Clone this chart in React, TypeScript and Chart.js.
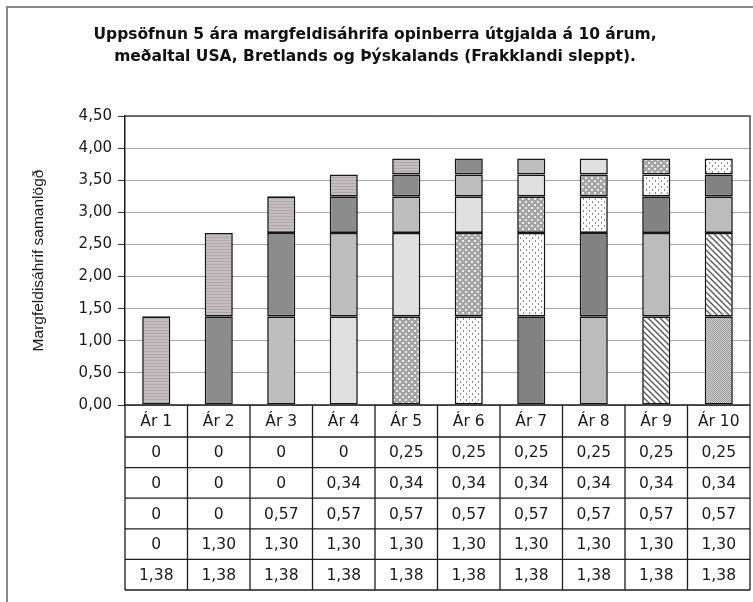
import { useEffect, useRef } from 'react';
import { Chart, registerables } from 'chart.js';

Chart.register(...registerables);

const categories = ['Ár 1', 'Ár 2', 'Ár 3', 'Ár 4', 'Ár 5', 'Ár 6', 'Ár 7', 'Ár 8', 'Ár 9', 'Ár 10'];
const titleLines = [
  'Uppsöfnun 5 ára margfeldisáhrifa opinberra útgjalda á 10 árum,',
  'meðaltal USA, Bretlands og Þýskalands (Frakklandi sleppt).',
];
const yAxisTitle = 'Margfeldisáhrif samanlögð';
const yTickLabels = ['0,00', '0,50', '1,00', '1,50', '2,00', '2,50', '3,00', '3,50', '4,00', '4,50'];

// Data table rows, as printed top to bottom (effect in 5th, 4th, 3rd, 2nd, 1st year of each outlay)
const effectYear5 = [0, 0, 0, 0, 0.25, 0.25, 0.25, 0.25, 0.25, 0.25];
const effectYear4 = [0, 0, 0, 0.34, 0.34, 0.34, 0.34, 0.34, 0.34, 0.34];
const effectYear3 = [0, 0, 0.57, 0.57, 0.57, 0.57, 0.57, 0.57, 0.57, 0.57];
const effectYear2 = [0, 1.3, 1.3, 1.3, 1.3, 1.3, 1.3, 1.3, 1.3, 1.3];
const effectYear1 = [1.38, 1.38, 1.38, 1.38, 1.38, 1.38, 1.38, 1.38, 1.38, 1.38];
const tableRows = [effectYear5, effectYear4, effectYear3, effectYear2, effectYear1];
const lagRows = [effectYear1, effectYear2, effectYear3, effectYear4, effectYear5];

const fmt = (v: number) => (v === 0 ? '0' : v.toFixed(2).replace('.', ','));

function makeTile(w: number, h: number, draw: (g: CanvasRenderingContext2D) => void) {
  const c = document.createElement('canvas');
  c.width = w;
  c.height = h;
  const g = c.getContext('2d')!;
  draw(g);
  return c;
}

function buildFills(ctx: CanvasRenderingContext2D): (string | CanvasPattern)[] {
  const pat = (c: HTMLCanvasElement) => ctx.createPattern(c, 'repeat')!;
  // cohort 1: grey with faint mauve tint and fine horizontal lines
  const c1 = pat(makeTile(4, 3, (g) => {
    g.fillStyle = '#c4bec0'; g.fillRect(0, 0, 4, 3);
    g.fillStyle = '#aea8aa'; g.fillRect(0, 0, 4, 1);
  }));
  // cohort 5: grey with white dots (checker-like)
  const c5 = pat(makeTile(6, 6, (g) => {
    g.fillStyle = '#a4a4a4'; g.fillRect(0, 0, 6, 6);
    g.fillStyle = '#ececec'; g.fillRect(0, 0, 2, 2); g.fillRect(3, 3, 2, 2);
  }));
  // cohort 6: white with sparse grey dots
  const c6 = pat(makeTile(6, 6, (g) => {
    g.fillStyle = '#ffffff'; g.fillRect(0, 0, 6, 6);
    g.fillStyle = '#8c8c8c'; g.fillRect(1, 0, 1, 2); g.fillRect(4, 3, 1, 2);
  }));
  // cohort 9: diagonal stripes
  const c9 = pat(makeTile(6, 6, (g) => {
    g.fillStyle = '#ffffff'; g.fillRect(0, 0, 6, 6);
    g.strokeStyle = '#5a5a5a'; g.lineWidth = 1.4;
    g.beginPath();
    g.moveTo(-1, -1); g.lineTo(7, 7);
    g.moveTo(5, -1); g.lineTo(7, 1);
    g.moveTo(-1, 5); g.lineTo(1, 7);
    g.stroke();
  }));
  // cohort 10: fine grey crosshatch
  const c10 = pat(makeTile(2, 2, (g) => {
    g.fillStyle = '#d2d2d2'; g.fillRect(0, 0, 2, 2);
    g.fillStyle = '#9a9a9a'; g.fillRect(0, 0, 1, 1); g.fillRect(1, 1, 1, 1);
  }));
  return [c1, '#8c8c8c', '#bebebe', '#e0e0e0', c5, c6, '#828282', '#bcbcbc', c9, c10];
}

const frameAndTable = {
  id: 'frameAndTable',
  beforeDraw(chart: any) {
    const { ctx, width, height } = chart;
    ctx.save();
    ctx.fillStyle = '#ffffff';
    ctx.fillRect(0, 0, width, height);
    ctx.strokeStyle = '#8a8a8a';
    ctx.lineWidth = 2;
    ctx.beginPath();
    ctx.moveTo(7, height + 2);
    ctx.lineTo(7, 7);
    ctx.lineTo(width + 2, 7);
    ctx.stroke();
    ctx.restore();
  },
  afterDraw(chart: any) {
    const { ctx, chartArea } = chart;
    const x = chart.scales.x;
    const left = chartArea.left;
    const right = chartArea.right;
    const top = chartArea.top;
    const bottom = chartArea.bottom;
    const n = categories.length;
    const colW = (right - left) / n;
    ctx.save();
    // plot border top/right
    ctx.strokeStyle = '#4a4a4a';
    ctx.lineWidth = 1.5;
    ctx.beginPath();
    ctx.moveTo(left, top);
    ctx.lineTo(right, top);
    ctx.lineTo(right, bottom);
    ctx.stroke();

    // table
    const headerH = 32;
    const rowH = 30.6;
    const tableBottom = bottom + headerH + rowH * tableRows.length;
    ctx.strokeStyle = '#1e1e1e';
    ctx.lineWidth = 1.3;
    ctx.beginPath();
    const ys = [bottom, bottom + headerH];
    for (let r = 1; r <= tableRows.length; r++) ys.push(bottom + headerH + rowH * r);
    ys.forEach((y) => { ctx.moveTo(left, y); ctx.lineTo(right, y); });
    for (let i = 0; i <= n; i++) {
      const cx = left + colW * i;
      ctx.moveTo(cx, bottom);
      ctx.lineTo(cx, tableBottom);
    }
    ctx.stroke();

    ctx.fillStyle = '#1a1a1a';
    ctx.textAlign = 'center';
    ctx.textBaseline = 'middle';
    ctx.font = '15.5px "DejaVu Sans"';
    categories.forEach((lab, i) => {
      const cx = x.getPixelForValue(i);
      ctx.fillText(lab, cx, bottom + headerH / 2 + 1);
      tableRows.forEach((row, r) => {
        ctx.fillText(fmt(row[i]), cx, bottom + headerH + rowH * (r + 0.5) + 1);
      });
    });
    ctx.restore();
  },
};

export default function App() {
  const ref = useRef<HTMLCanvasElement>(null);
  useEffect(() => {
    const canvas = ref.current!;
    const ctx = canvas.getContext('2d')!;
    const fills = buildFills(ctx);
    const datasets = [];
    for (let k = categories.length - 1; k >= 0; k--) {
      const data = categories.map((_, nIdx) => {
        const lag = nIdx - k;
        if (lag < 0 || lag >= lagRows.length) return null;
        const v = lagRows[lag][nIdx];
        return v ? v : null;
      });
      datasets.push({
        label: 'Útgjöld ' + categories[k],
        data,
        backgroundColor: fills[k],
        borderColor: '#161616',
        borderWidth: 1.6,
        borderSkipped: false,
        barPercentage: 0.45,
        categoryPercentage: 1,
      });
    }
    const chart = new Chart(canvas, {
      type: 'bar',
      data: { labels: categories, datasets },
      plugins: [frameAndTable],
      options: {
        animation: false,
        responsive: false,
        maintainAspectRatio: false,
        layout: { padding: { left: 0, right: 3, top: 0, bottom: 0 } },
        plugins: {
          legend: { display: false },
          tooltip: { enabled: false },
          title: {
            display: true,
            text: titleLines,
            color: '#111',
            font: { family: '"DejaVu Sans"', size: 15.5, weight: 'bold', lineHeight: 1.4 },
            padding: { top: 24, bottom: 48.6 },
          },
        },
        scales: {
          x: {
            stacked: true,
            ticks: { display: false },
            grid: { display: false },
            border: { display: false },
            afterFit: (s: any) => { s.height = 197; },
          },
          y: {
            stacked: true,
            min: 0,
            max: 4.5,
            ticks: {
              stepSize: 0.5,
              padding: 6,
              color: '#1a1a1a',
              font: { family: '"DejaVu Sans"', size: 15 },
              callback: (_v: any, i: number) => yTickLabels[i],
            },
            grid: { color: '#a6a6a6', lineWidth: 1, tickLength: 7, tickColor: '#333' },
            border: { display: true, color: '#1a1a1a', width: 1.5 },
            title: {
              display: true,
              text: yAxisTitle,
              color: '#1a1a1a',
              font: { family: '"Liberation Sans"', size: 15.5 },
              padding: { top: 29, bottom: 0 },
            },
            afterFit: (s: any) => { s.width = 125; },
          },
        },
      } as any,
    });
    return () => chart.destroy();
  }, []);
  return (
    <div style={{ position: 'fixed', left: 0, top: 0, width: 753, height: 602 }}>
      <canvas ref={ref} width={753} height={602} />
    </div>
  );
}
